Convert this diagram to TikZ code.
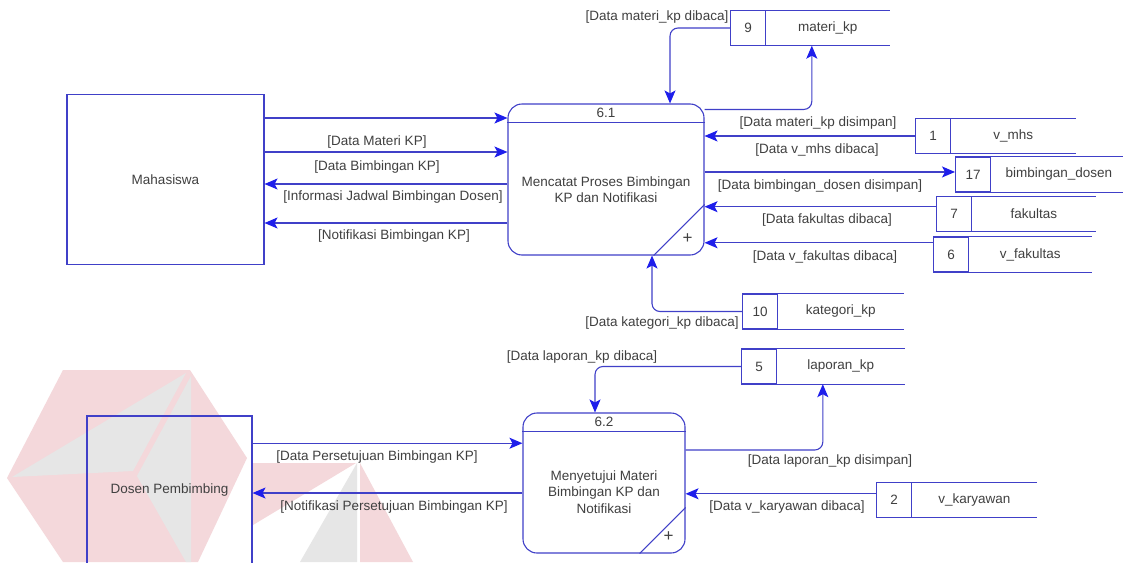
\documentclass[tikz,border=0pt]{standalone}
\usepackage{fontspec}
\setmainfont{Liberation Sans}
\usetikzlibrary{arrows.meta}

\definecolor{dfdline}{RGB}{64,64,200}
\definecolor{dfdhead}{RGB}{30,30,235}
\definecolor{dfdtext}{RGB}{64,64,64}
\definecolor{wmred}{RGB}{244,216,219}
\definecolor{wmgrey}{RGB}{230,230,230}

\tikzset{
	entity/.style={draw=dfdline, line width=1.1pt, minimum width=197, minimum height=170, inner sep=0pt},
	proc/.style={draw=dfdline, line width=1.1pt, rounded corners=14, inner sep=0pt},
	storeid/.style={draw=dfdline, line width=1.1pt, anchor=west, minimum width=35, minimum height=35, inner sep=0pt},
	storename/.style={anchor=west, minimum height=35, inner sep=0pt},
	flow/.style={draw=dfdline, line width=1.1pt, ->},
	flowlbl/.style={inner sep=0pt},
}

% data store: id cell plus open name field
\newcommand{\dstore}[5]{%
	\node[storeid] (#1) at (#2) {#3};
	\node[storename, minimum width=#5] (#1-n) at (#1.east) {#4};
	\draw[dfdline, line width=1.1pt] (#1-n.north west) -- (#1-n.north east) (#1-n.south west) -- (#1-n.south east);
}

\begin{document}
\begin{tikzpicture}[x=1pt, y=-1pt, text=dfdtext, font=\fontsize{13.5}{16.5}\selectfont,
		>={Stealth[length=13pt, width=11pt, inset=3pt, color=dfdhead]}]
	\useasboundingbox (0,0) rectangle (1123,562);
	\clip (0,0) rectangle (1123,562);
	\fill[white] (0,0) rectangle (1123,562);

	%% logo in the background
	\fill[wmred] (63,370) -- (190,370) -- (247,458) -- (198,562) -- (63,562) -- (7,478) -- cycle;
	\fill[wmgrey] (12,477) -- (186,373) -- (133,471) -- cycle;
	\fill[wmgrey] (191,376) -- (137,476) -- (186,562) -- (191,562) -- cycle;
	\fill[wmred] (253,463) -- (356,463) -- (253,525) -- cycle;
	\fill[wmgrey] (357,463) -- (300,562) -- (357,562) -- cycle;
	\fill[wmred] (360,463) -- (413,562) -- (360,562) -- cycle;

	%% external entities
	\node[entity] (mhs) at (165.5,179.5) {Mahasiswa};
	\node[entity, minimum width=165, minimum height=148] (dsn) at (169.5,490) {Dosen Pembimbing};

	%% processes
	\node[proc, minimum width=196, minimum height=151] (p61) at (606,179.5) {};
	\node[proc, minimum width=162, minimum height=140] (p62) at (604,483) {};
	\foreach \p/\id/\d in {p61/6.1/51, p62/6.2/46} {
		\draw[dfdline, line width=1.1pt] ([yshift=-19]\p.north west) -- ([yshift=-19]\p.north east);
		\draw[dfdline, line width=1.1pt] ([xshift=-\d]\p.south east) -- ([yshift=\d]\p.south east);
		\node (\p-id) at ([yshift=-9.5]\p.north) {\id};
		\node[font=\fontsize{17}{17}\selectfont] (\p-plus) at ([xshift=-17,yshift=17]\p.south east) {+};
	}
	\node[align=center] (p61-t) at ([yshift=-10]p61.center) {Mencatat Proses Bimbingan\\KP dan Notifikasi};
	\node[align=center] (p62-t) at ([yshift=-9]p62.center) {Menyetujui Materi\\Bimbingan KP dan\\Notifikasi};

	%% data stores
	\dstore{mat}{730,28}{9}{materi\_kp}{123}
	\dstore{vmhs}{915,136}{1}{v\_mhs}{124}
	\dstore{bdos}{955,174.5}{17}{bimbingan\_dosen}{135}
	\dstore{fak}{936,214}{7}{fakultas}{123}
	\dstore{vfak}{933,254.5}{6}{v\_fakultas}{122}
	\dstore{kat}{742,311.5}{10}{kategori\_kp}{125}
	\dstore{lap}{741,366.5}{5}{laporan\_kp}{127}
	\dstore{vkar}{876,500}{2}{v\_karyawan}{124}

	%% flows of 6.1
	\foreach \src/\dst/\dy in {mhs.east/p61.west/61.5, mhs.east/p61.west/27.5, p61.west/mhs.east/-4.5, p61.west/mhs.east/-43.5}
		\draw[flow] ([yshift=\dy]\src) -- ([yshift=\dy]\dst);
	\draw[flow, rounded corners=8] (mat.west) -| ([xshift=64]p61.north);
	\draw[flow, rounded corners=8] ([yshift=-6]p61.north east) -| ([xshift=-16]mat-n.south);
	\draw[flow] (vmhs.west) -- (vmhs.west -| p61.east);
	\draw[flow] (bdos.172 -| p61.east) -- (bdos.172);
	\draw[flow] (fak.158) -- (fak.158 -| p61.east);
	\draw[flow] (vfak.147) -- (vfak.147 -| p61.east);
	\draw[flow, rounded corners=8] (kat.west) -| ([xshift=46]p61.south);

	%% flows of 6.2
	\draw[flow, rounded corners=8] (lap.west) -| ([xshift=-9]p62.north);
	\draw[flow, rounded corners=8] ([yshift=33]p62.east) -| ([xshift=-18]lap-n.south);
	\draw[flow] (vkar.161) -- (vkar.161 -| p62.east);
	\draw[flow] (dsn.east |- p62.154) -- (p62.154);
	\draw[flow] (p62.187) -- (p62.187 -| dsn.east);

	%% flow labels
	\foreach \x/\y/\t [count=\i] in {
		377/142/[Data Materi KP],
		377/167/[Data Bimbingan KP],
		393/197/[Informasi Jadwal Bimbingan Dosen],
		394/236/[Notifikasi Bimbingan KP],
		657/17/[Data materi\_kp dibaca],
		818/123/[Data materi\_kp disimpan],
		817/150/[Data v\_mhs dibaca],
		820/186/[Data bimbingan\_dosen disimpan],
		827/220/[Data fakultas dibaca],
		825/257/[Data v\_fakultas dibaca],
		662/323/[Data kategori\_kp dibaca],
		582/357/[Data laporan\_kp dibaca],
		377/457/[Data Persetujuan Bimbingan KP],
		394/507/[Notifikasi Persetujuan Bimbingan KP],
		830/461/[Data laporan\_kp disimpan],
		787/507/[Data v\_karyawan dibaca]}
		\node[flowlbl] (lbl\i) at (\x,\y) {\t};
\end{tikzpicture}
\end{document}
